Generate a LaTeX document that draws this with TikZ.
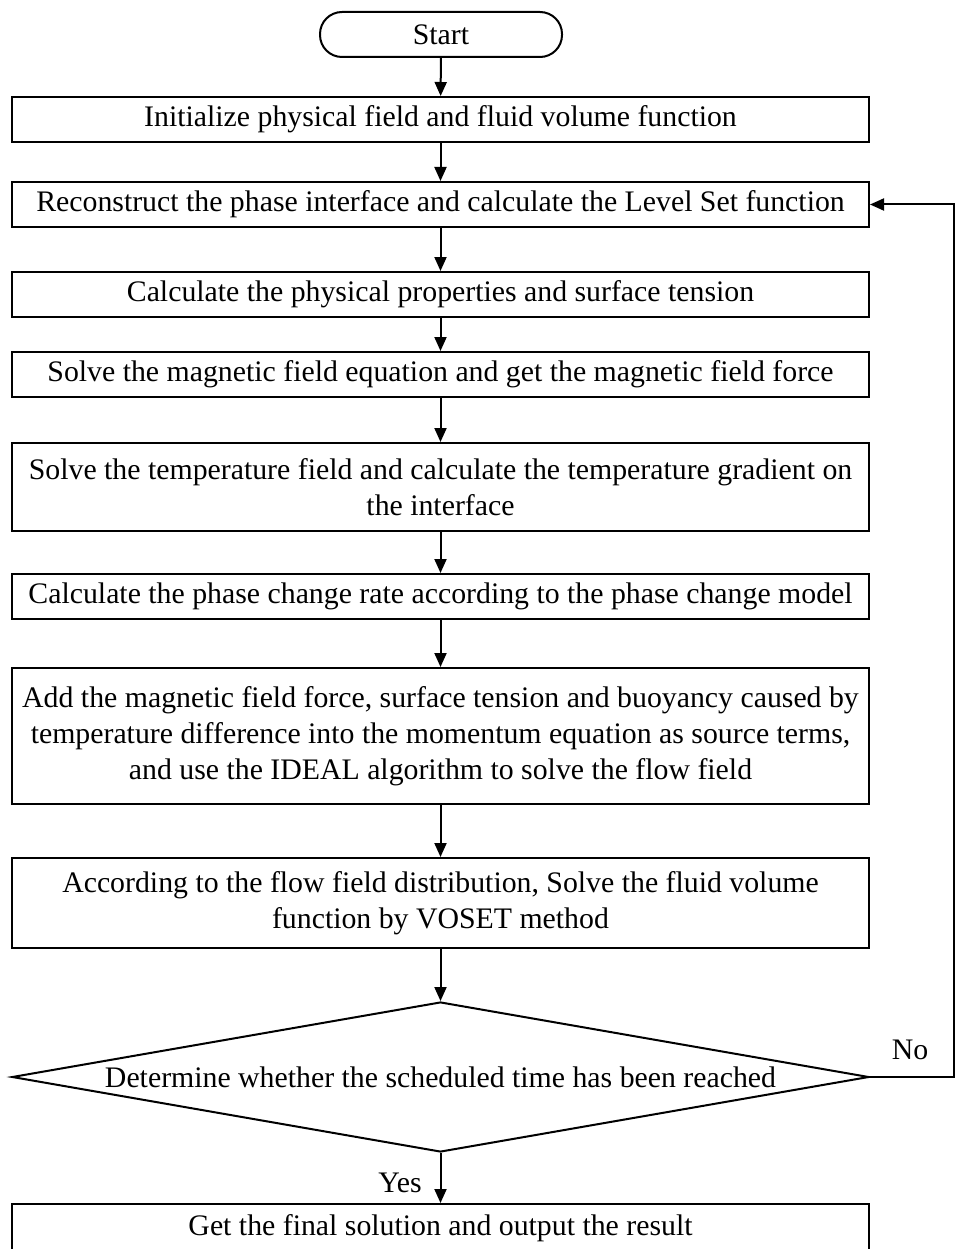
\documentclass[tikz,border=0pt]{standalone}
\usepackage{fontspec}
\setmainfont{Liberation Serif}
\usetikzlibrary{shapes.geometric,arrows.meta}
\begin{document}
\begin{tikzpicture}[x=1pt,y=-1pt,
  every node/.style={font=\fontsize{29.8}{35.8}\selectfont},
  proc/.style={draw,line width=2pt,minimum width=857pt,align=center,inner sep=0pt},
  term/.style={draw,line width=2pt,rounded corners=22pt,minimum width=242pt,minimum height=45pt,inner sep=0pt},
  dec/.style={draw,diamond,line width=2pt,minimum width=857pt,minimum height=150pt,inner sep=0pt},
  arr/.style={line width=2pt,-{Triangle[length=14pt,width=12pt]}},
  lbl/.style={inner sep=0pt}]
\clip (0,0) rectangle (956,1249);
\useasboundingbox (0,0) rectangle (956,1249);
\node[term] (start) at (441,34.5) {Start};
\node[proc,minimum height=45pt] (b1) at (440.5,119.5) {Initialize physical field and fluid volume function};
\node[proc,minimum height=45pt] (b2) at (440.5,204.5) {Reconstruct the phase interface and calculate the Level Set function};
\node[proc,minimum height=45pt] (b3) at (440.5,294.5) {Calculate the physical properties and surface tension};
\node[proc,minimum height=45pt] (b4) at (440.5,374.5) {Solve the magnetic field equation and get the magnetic field force};
\node[proc,minimum height=88pt] (b5) at (440.5,487) {Solve the temperature field and calculate the temperature gradient on\\the interface};
\node[proc,minimum height=45pt] (b6) at (440.5,596.5) {Calculate the phase change rate according to the phase change model};
\node[proc,minimum height=136pt] (b7) at (440.5,736) {Add the magnetic field force, surface tension and buoyancy caused by\\temperature difference into the momentum equation as source terms,\\and use the IDEAL algorithm to solve the flow field};
\node[proc,minimum height=90pt] (b8) at (440.5,903) {According to the flow field distribution, Solve the fluid volume\\function by VOSET method};
\node[dec] (d) at (440.5,1077) {};
\node at (d) {Determine whether the scheduled time has been reached};
\node[proc,minimum height=90pt,anchor=north] (b9) at (440.5,1203) {};
\node at (440.5,1228) {Get the final solution and output the result};
\coordinate (cr) at (954,1077);
\coordinate (ct) at (954,204.5);
\draw[arr] (start) -- (b1);
\draw[arr] (b1) -- (b2);
\draw[arr] (b2) -- (b3);
\draw[arr] (b3) -- (b4);
\draw[arr] (b4) -- (b5);
\draw[arr] (b5) -- (b6);
\draw[arr] (b6) -- (b7);
\draw[arr] (b7) -- (b8);
\draw[arr] (b8) -- (d);
\draw[arr] (d) -- (b9);
\draw[arr] (d.east) -- (cr) -- (ct) -- (b2.east);
\node[lbl] (no) at (910,1050) {No};
\node[lbl] (yes) at (400,1183) {Yes};
\end{tikzpicture}
\end{document}
